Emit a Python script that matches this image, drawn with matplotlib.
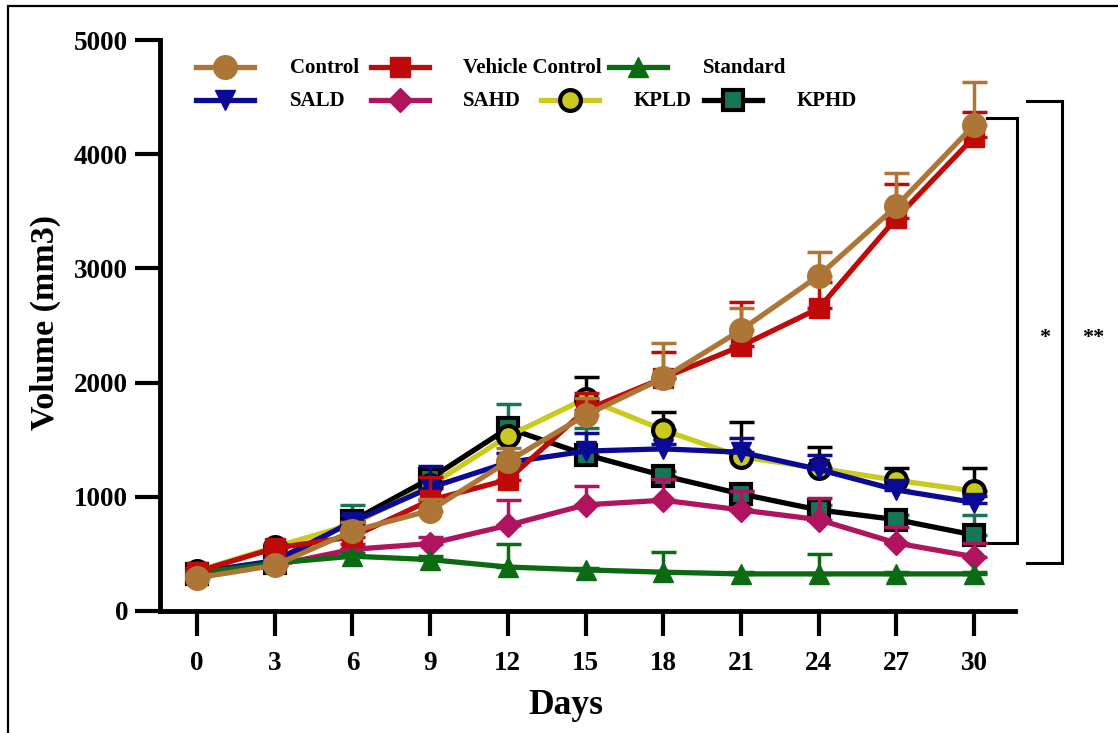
import numpy as np
import matplotlib
matplotlib.use("Agg")
import matplotlib.pyplot as plt
from matplotlib.lines import Line2D
from matplotlib.patches import Rectangle

# ------------------------------------------------------------
# Tumour volume over time, mean + upper SEM per group
# ------------------------------------------------------------

days = [0, 3, 6, 9, 12, 15, 18, 21, 24, 27, 30]

control_mean = [290, 400, 700, 880, 1310, 1715, 2040, 2460, 2935, 3545, 4255]
control_err = [30, 50, 80, 100, 120, 150, 305, 195, 210, 290, 375]

vehicle_mean = [345, 550, 650, 970, 1150, 1760, 2040, 2320, 2650, 3440, 4150]
vehicle_err = [30, 40, 70, 200, 100, 150, 230, 385, 230, 300, 220]

standard_mean = [330, 420, 480, 450, 385, 360, 340, 325, 325, 325, 325]
standard_err = [20, 30, 30, 30, 200, 20, 180, 20, 170, 20, 20]

sald_mean = [340, 440, 780, 1080, 1300, 1400, 1420, 1390, 1240, 1060, 950]
sald_err = [20, 30, 60, 190, 80, 160, 40, 125, 130, 90, 60]

sahd_mean = [330, 400, 540, 590, 750, 930, 970, 885, 800, 595, 475]
sahd_err = [20, 30, 50, 60, 220, 165, 185, 165, 190, 140, 120]

kpld_mean = [350, 560, 760, 1100, 1530, 1860, 1585, 1350, 1250, 1145, 1050]
kpld_err = [20, 20, 40, 60, 60, 190, 160, 305, 185, 105, 200]

kphd_mean = [320, 420, 790, 1160, 1600, 1370, 1185, 1025, 885, 800, 665]
kphd_err = [20, 30, 140, 40, 210, 230, 40, 30, 40, 40, 175]

labels = ["Control", "Vehicle Control", "Standard", "SALD", "SAHD", "KPLD", "KPHD"]

# (mean, err, line colour, marker, face, edge, errorbar colour, marker size)
STYLES = {
    "Control":         (control_mean,  control_err,  "#AD7636", "o", "#AD7636", "#AD7636", "#AD7636", 17),
    "Vehicle Control": (vehicle_mean,  vehicle_err,  "#C00A0A", "s", "#C00A0A", "#C00A0A", "#C00A0A", 15),
    "Standard":        (standard_mean, standard_err, "#0B6B12", "^", "#0B6B12", "#0B6B12", "#0B6B12", 15),
    "SALD":            (sald_mean,     sald_err,     "#0A0A96", "v", "#0A0A96", "#0A0A96", "#0A0A96", 15),
    "SAHD":            (sahd_mean,     sahd_err,     "#B0145E", "D", "#B0145E", "#B0145E", "#B0145E", 12),
    "KPLD":            (kpld_mean,     kpld_err,     "#CACA1E", "o", "#CACA1E", "black",   "black",   15),
    "KPHD":            (kphd_mean,     kphd_err,     "black",   "s", "#177657", "black",   "#177657", 15),
}

# drawing order: last group in the legend sits at the back
DRAW_ORDER = ["KPHD", "KPLD", "SAHD", "SALD", "Standard", "Vehicle Control", "Control"]

W, H = 1118, 733


def fx(px):
    return px / W


def fy(py):
    return 1 - py / H


plt.rcParams.update({
    "font.family": "Liberation Serif",
    "font.weight": "bold",
    "axes.linewidth": 3.5,
})

fig = plt.figure(figsize=(W / 100, H / 100), dpi=100)
ax = fig.add_axes([fx(160), fy(611), fx(1015) - fx(160), fy(40) - fy(611)])

for z, name in enumerate(DRAW_ORDER):
    mean, err, lc, mk, fc, ec, erc, ms = STYLES[name]
    mean = np.array(mean)
    err = np.array(err)
    ax.errorbar(days, mean, yerr=[np.zeros_like(err), err], fmt="none",
                ecolor=erc, elinewidth=2.5, capsize=9, capthick=2.5, zorder=2 + 2 * z)
    medge = 3 if name in ("KPLD", "KPHD") else 1
    ax.plot(days, mean, color=lc, linewidth=3.8, marker=mk, markersize=ms,
            markerfacecolor=fc, markeredgecolor=ec, markeredgewidth=medge,
            zorder=3 + 2 * z, clip_on=False)

ax.set_xlim(-1.43, 31.58)
ax.set_ylim(0, 5000)
ax.set_xticks(days)
ax.set_yticks([0, 1000, 2000, 3000, 4000, 5000])
ax.tick_params(axis="both", labelsize=19.5, width=3, length=18)
ax.tick_params(axis="x", pad=11)
ax.tick_params(axis="y", pad=5)
for lbl in ax.get_xticklabels() + ax.get_yticklabels():
    lbl.set_fontweight("bold")
ax.spines["top"].set_visible(False)
ax.spines["right"].set_visible(False)

# axis titles
fig.text(fx(566), fy(706), "Days", fontsize=25.5, fontweight="bold",
         ha="center", va="center")
fig.text(fx(45), fy(322), "Volume (mm3)", fontsize=24.5, fontweight="bold",
         ha="center", va="center", rotation=90)

# legend drawn by hand: two rows of handle + label
LEGEND_POS = {
    "Control":         (225, 67, 290),
    "Vehicle Control": (400, 67, 463),
    "Standard":        (638, 67, 703),
    "SALD":            (225, 100, 290),
    "SAHD":            (400, 100, 463),
    "KPLD":            (570, 100, 634),
    "KPHD":            (733, 100, 797),
}
for name in labels:
    mean, err, lc, mk, fc, ec, erc, ms = STYLES[name]
    cx, cy, tx = LEGEND_POS[name]
    medge = 3 if name in ("KPLD", "KPHD") else 1
    fig.add_artist(Line2D([fx(cx - 29), fx(cx + 29)], [fy(cy), fy(cy)],
                          transform=fig.transFigure, color=lc, linewidth=3.8))
    fig.add_artist(Line2D([fx(cx)], [fy(cy)], transform=fig.transFigure,
                          marker=mk, markersize=ms, markerfacecolor=fc,
                          markeredgecolor=ec, markeredgewidth=medge, linestyle="none"))
    fig.text(fx(tx), fy(cy + 1), name, fontsize=15, fontweight="bold",
             ha="left", va="center")

# significance brackets
tr = ax.transData
kw = dict(color="black", linewidth=2.2, clip_on=False, transform=tr, solid_joinstyle="miter")
ax.plot([30.5, 31.66, 31.66, 30.5], [4317, 4317, 595, 595], **kw)
ax.plot([32.05, 33.4, 33.4, 32.05], [4466, 4466, 420, 420], **kw)
fig.text(fx(1045), fy(338), "*", fontsize=16, fontweight="bold", ha="center", va="center")
fig.text(fx(1093), fy(338), "**", fontsize=16, fontweight="bold", ha="center", va="center")

# outer frame
fig.add_artist(Rectangle((fx(8), -0.05), 1.1, fy(6) + 0.05, transform=fig.transFigure,
                         fill=False, edgecolor="black", linewidth=1.6))

fig.savefig("out.png", dpi=100, facecolor="white")
